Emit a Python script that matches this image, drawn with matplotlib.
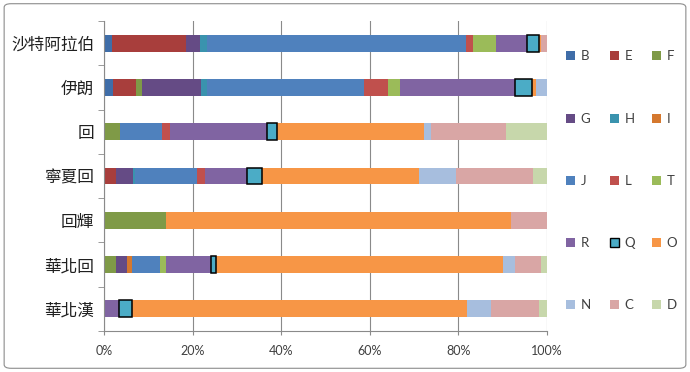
import matplotlib
matplotlib.use("Agg")
import matplotlib.pyplot as plt
from matplotlib.patches import FancyBboxPatch, Patch
import numpy as np

categories = ["沙特阿拉伯", "伊朗", "回", "寧夏回", "回輝", "華北回", "華北漢"]
series = ["B", "E", "F", "G", "H", "I", "J", "L", "T", "R", "Q", "O", "N", "C", "D"]

B = [1.8, 2.1, 0, 0, 0, 0, 0]
E = [16.7, 5.1, 0, 2.7, 0, 0, 0]
F = [0, 1.4, 3.7, 0, 13.9, 2.6, 0]
G = [3.2, 13.4, 0, 3.8, 0, 2.5, 0]
H = [1.6, 1.3, 0, 0.4, 0, 0, 0]
I = [0, 0, 0, 0, 0, 1.2, 0]
J = [58.5, 35.5, 9.3, 14.1, 0, 6.3, 0]
L = [1.5, 5.3, 2.0, 1.8, 0, 0, 0]
T = [5.2, 2.7, 0, 0, 0, 1.4, 0]
R = [7.0, 25.9, 21.9, 9.5, 0, 10.1, 3.3]
Q = [2.7, 4.0, 2.1, 3.3, 0, 1.2, 3.1]
O = [0.4, 0.8, 33.2, 35.6, 77.9, 64.7, 75.6]
N = [0, 2.5, 1.7, 8.3, 0, 2.7, 5.3]
C = [1.4, 0, 16.8, 17.3, 8.2, 6.0, 11.0]
D = [0, 0, 9.3, 3.2, 0, 1.3, 1.7]

values = [B, E, F, G, H, I, J, L, T, R, Q, O, N, C, D]
colors = ["#3F6DA8", "#A83E3C", "#7F9A47", "#654B85", "#3A93AE", "#D5782E",
          "#4F81BD", "#C0504D", "#9BBB59", "#8064A2", "#4BACC6", "#F79646",
          "#A7BEDE", "#D9A6A5", "#C7D7AB"]

plt.rcParams['font.family'] = ['Noto Sans CJK TC', 'DejaVu Sans']

fig = plt.figure(figsize=(6.9, 3.72), dpi=100)
fig.patches.append(FancyBboxPatch((0.006, 0.01), 0.988, 0.98, boxstyle="round,pad=0,rounding_size=0.01",
                                  transform=fig.transFigure, fill=False, edgecolor="#8C8C8C", linewidth=0.8))
ax = fig.add_axes([104/690, 1 - 331/372, 443/690, 310/372])

y = np.arange(len(categories))
left = np.zeros(len(categories))
for name, vals, col in zip(series, values, colors):
    vals = np.array(vals, dtype=float)
    mask = vals > 0
    if name == "Q":
        ax.barh(y[mask], vals[mask], left=left[mask], height=0.38, color=col,
                edgecolor="black", linewidth=1.1, zorder=3)
    else:
        ax.barh(y[mask], vals[mask], left=left[mask], height=0.38, color=col, linewidth=0, zorder=2)
    left += vals

ax.set_xlim(0, 100)
ax.set_ylim(len(categories) - 0.5, -0.5)
ax.set_xticks(np.arange(0, 101, 20))
ax.set_xticklabels([f"{v}%" for v in range(0, 101, 20)], family=['Lato', 'DejaVu Sans'], fontsize=9, color="#404040")
ax.xaxis.grid(True, color="#8A8A8A", linewidth=0.8, zorder=0)
ax.set_axisbelow(True)
ax.set_yticks(y)
ax.set_yticklabels(categories, fontsize=12, color="#202020")
ax.set_yticks(np.arange(-0.5, len(categories)), minor=True)
ax.tick_params(axis='y', which='major', length=0, pad=7)
ax.tick_params(axis='y', which='minor', length=4, color="#8A8A8A")
ax.tick_params(axis='x', length=3, color="#8A8A8A", pad=7)
for s in ["top", "right"]:
    ax.spines[s].set_visible(False)
for s in ["left", "bottom"]:
    ax.spines[s].set_color("#8A8A8A")
    ax.spines[s].set_linewidth(0.8)

# legend, 3 columns x 5 rows, filled row-wise
handles = []
for name, col in zip(series, colors):
    if name == "Q":
        handles.append(Patch(facecolor=col, edgecolor="black", linewidth=1.0, label=name))
    else:
        handles.append(Patch(facecolor=col, edgecolor="none", label=name))
xs = [572, 616, 658]
ys = [56, 119, 181, 243, 305]
for i, h in enumerate(handles):
    r, c = divmod(i, 3)
    lg = fig.legend([h], [h.get_label()], loc="center left",
                    bbox_to_anchor=((xs[c] - 6) / 690, 1 - ys[r] / 372),
                    frameon=False, handlelength=0.7, handleheight=0.7, handletextpad=0.4,
                    borderpad=0, borderaxespad=0,
                    prop={'family': ['Lato', 'DejaVu Sans'], 'size': 9.5})
    for t in lg.get_texts():
        t.set_color("#404040")

fig.savefig("out.png", dpi=100)
